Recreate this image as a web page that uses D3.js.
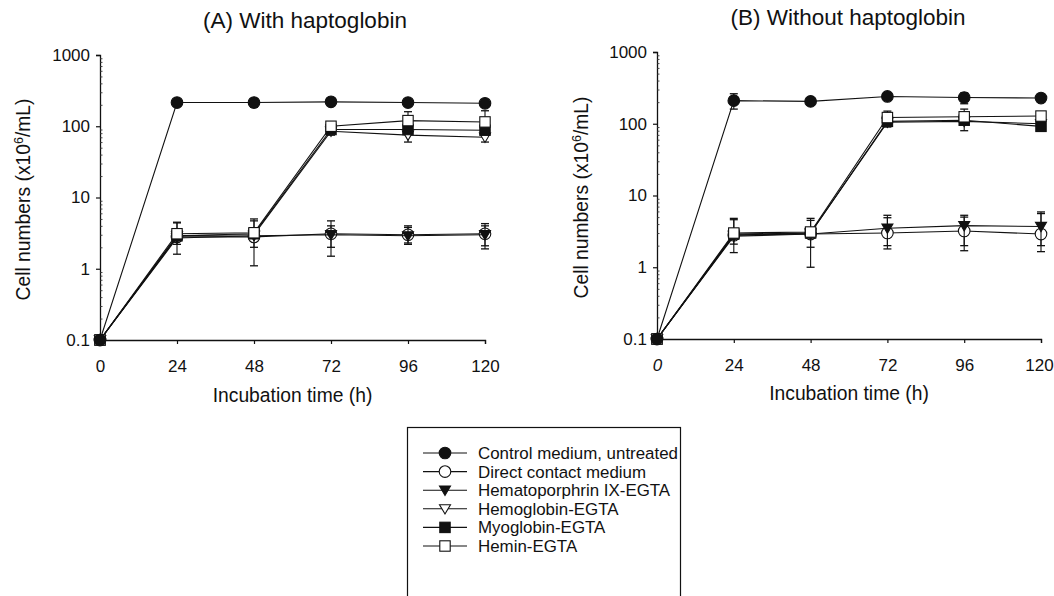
<!DOCTYPE html>
<html>
<head>
<meta charset="utf-8">
<script src="https://cdn.jsdelivr.net/npm/d3@7"></script>
<style>
  html, body { margin: 0; padding: 0; background: #fff; }
  svg { display: block; }
  text { font-family: "Liberation Sans", Arial, Helvetica, sans-serif; fill: #111; }
</style>
</head>
<body>
<svg id="chart" width="1054" height="596"></svg>
<script>
// ---------------- DATA ----------------
const hours = [0, 24, 48, 72, 96, 120];
const xTickLabels = ["0", "24", "48", "72", "96", "120"];
const yTickValues = [0.1, 1, 10, 100, 1000];
const yTickLabels = ["0.1", "1", "10", "100", "1000"];

const seriesNames = [
  "Control medium, untreated",
  "Direct contact medium",
  "Hematoporphrin IX-EGTA",
  "Hemoglobin-EGTA",
  "Myoglobin-EGTA",
  "Hemin-EGTA"
];
const seriesMarkers = ["circleFilled", "circleOpen", "triFilled", "triOpen", "squareFilled", "squareOpen"];

// Panel A: with haptoglobin (cell numbers x10^6/mL)
const A_control    = [0.1, 215, 215, 220, 215, 210];
const A_direct     = [0.1, 2.8, 2.8, 3.1, 3.0, 3.1];
const A_hematopor  = [0.1, 2.7, 2.9, 3.0, 2.9, 3.0];
const A_hemoglobin = [0.1, 2.9, 3.0, 85, 75, 70];
const A_myoglobin  = [0.1, 2.9, 3.1, 90, 90, 88];
const A_hemin      = [0.1, 3.1, 3.2, 100, 120, 115];
// error bars [low, high] per time point (null = none visible)
const A_control_err    = [null, null, [185, 245], null, null, null];
const A_direct_err     = [null, [1.6, 4.5], [1.1, 4.7], [1.5, 4.7], [2.2, 4.0], [1.9, 4.3]];
const A_hematopor_err  = [null, [2.2, 4.4], [2.0, 5.0], [2.0, 4.0], [2.3, 3.8], [2.1, 4.0]];
const A_hemoglobin_err = [null, null, null, [75, 95], [60, 90], [60, 85]];
const A_myoglobin_err  = [null, null, null, null, null, null];
const A_hemin_err      = [null, null, null, [80, 115], [100, 160], [100, 165]];

// Panel B: without haptoglobin
const B_control    = [0.1, 210, 205, 240, 232, 228];
const B_direct     = [0.1, 2.8, 2.9, 3.0, 3.2, 2.9];
const B_hematopor  = [0.1, 2.7, 2.9, 3.5, 3.8, 3.7];
const B_hemoglobin = [0.1, 2.8, 3.0, 105, 108, 100];
const B_myoglobin  = [0.1, 2.9, 3.0, 108, 112, 92];
const B_hemin      = [0.1, 3.0, 3.1, 122, 125, 128];
const B_control_err    = [null, [160, 262], null, null, [190, 270], null];
const B_direct_err     = [null, [1.6, 4.6], [1.0, 4.5], [1.8, 4.9], [1.7, 5.0], [1.65, 5.6]];
const B_hematopor_err  = [null, [2.1, 4.8], [1.9, 4.8], [2.0, 5.3], [2.0, 5.3], [2.0, 5.9]];
const B_hemoglobin_err = [null, null, null, null, [80, 140], null];
const B_myoglobin_err  = [null, null, null, [90, 120], null, null];
const B_hemin_err      = [null, null, null, [100, 150], [100, 160], null];

const panelTitles = ["(A) With haptoglobin", "(B) Without haptoglobin"];
const xAxisTitle = "Incubation time (h)";

// ---------------- DRAW ----------------
const svg = d3.select("#chart");
const FONT = '"Liberation Sans", Arial, sans-serif';

const panels = [
  { title: panelTitles[0], x0: 100, x1: 485, yTop: 55, yBot: 340, titleX: 305,
    series: [A_control, A_direct, A_hematopor, A_hemoglobin, A_myoglobin, A_hemin],
    errs: [A_control_err, A_direct_err, A_hematopor_err, A_hemoglobin_err, A_myoglobin_err, A_hemin_err],
    titleY: 28, ylabX: 30, xlabY: 402, italicZero: false, shiftLast: 0 },
  { title: panelTitles[1], x0: 657, x1: 1041, yTop: 52, yBot: 339, titleX: 848,
    series: [B_control, B_direct, B_hematopor, B_hemoglobin, B_myoglobin, B_hemin],
    errs: [B_control_err, B_direct_err, B_hematopor_err, B_hemoglobin_err, B_myoglobin_err, B_hemin_err],
    titleY: 25, ylabX: 588, xlabY: 400, italicZero: true, shiftLast: -2 }
];

function drawMarker(g, type, cx, cy) {
  const s = 5.2;
  if (type === "circleFilled" || type === "circleOpen") {
    g.append("circle").attr("cx", cx).attr("cy", cy).attr("r", 5.8)
      .attr("fill", type === "circleFilled" ? "#111" : "#fff")
      .attr("stroke", "#111").attr("stroke-width", 1.1);
  } else if (type === "squareFilled" || type === "squareOpen") {
    g.append("rect").attr("x", cx - s).attr("y", cy - s).attr("width", 2 * s).attr("height", 2 * s)
      .attr("fill", type === "squareFilled" ? "#111" : "#fff")
      .attr("stroke", "#111").attr("stroke-width", 1.1);
  } else {
    const h = 5.5;
    g.append("path")
      .attr("d", `M${cx - h},${cy - h * 0.75} L${cx + h},${cy - h * 0.75} L${cx},${cy + h * 0.95} Z`)
      .attr("fill", type === "triFilled" ? "#111" : "#fff")
      .attr("stroke", "#111").attr("stroke-width", 1.1);
  }
}

// draw order: direct, hematoporphrin, hemoglobin, myoglobin, hemin, control
const drawOrder = [1, 2, 3, 4, 5, 0];

panels.forEach(p => {
  const x = d3.scaleLinear().domain([0, 120]).range([p.x0, p.x1]);
  const y = d3.scaleLog().domain([0.1, 1000]).range([p.yBot, p.yTop]);
  const g = svg.append("g");

  // Y axis major
  const yAxis = d3.axisLeft(y).tickValues(yTickValues)
    .tickFormat((d, i) => yTickLabels[i]).tickSize(4).tickPadding(6);
  const ya = g.append("g").attr("transform", `translate(${p.x0},0)`).call(yAxis);
  ya.select(".domain").attr("stroke", "#111").attr("stroke-width", 1.3);
  ya.selectAll(".tick line").attr("stroke", "#111").attr("stroke-width", 1.2);
  ya.selectAll(".tick text").style("font-size", "17px").style("font-family", FONT).attr("fill", "#111");

  // Y minor ticks (inside)
  const minor = [];
  [0.1, 1, 10, 100].forEach(dec => { for (let k = 2; k <= 9; k++) minor.push(dec * k); });
  const ym = g.append("g").attr("transform", `translate(${p.x0},0)`)
    .call(d3.axisLeft(y).tickValues(minor).tickFormat("").tickSize(-2.5));
  ym.select(".domain").remove();
  ym.selectAll(".tick line").attr("stroke", "#333").attr("stroke-width", 0.9);

  // X axis
  const xAxis = d3.axisBottom(x).tickValues(hours)
    .tickFormat((d, i) => xTickLabels[i]).tickSize(4).tickSizeOuter(4).tickPadding(16);
  const xa = g.append("g").attr("transform", `translate(0,${p.yBot})`).call(xAxis);
  xa.select(".domain").attr("stroke", "#111").attr("stroke-width", 1.3);
  xa.selectAll(".tick line").attr("stroke", "#111").attr("stroke-width", 1.2);
  xa.selectAll(".tick text").style("font-size", "17px").style("font-family", FONT).attr("fill", "#111");
  if (p.italicZero) xa.selectAll(".tick text").filter(d => d === 0).style("font-style", "italic");
  if (p.shiftLast) xa.selectAll(".tick text").filter(d => d === 120).attr("dx", p.shiftLast);

  // Titles
  g.append("text").attr("x", p.titleX).attr("y", p.titleY)
    .attr("text-anchor", "middle").style("font-size", "22.5px").text(p.title);
  g.append("text").attr("x", (p.x0 + p.x1) / 2).attr("y", p.xlabY)
    .attr("text-anchor", "middle").style("font-size", "19.3px").text(xAxisTitle);
  const yl = g.append("text")
    .attr("transform", `translate(${p.ylabX},${(p.yTop + p.yBot) / 2 + 2}) rotate(-90)`)
    .attr("text-anchor", "middle").style("font-size", "19.3px");
  yl.append("tspan").text("Cell numbers (x10");
  yl.append("tspan").attr("dy", -7).style("font-size", "12.5px").text("6");
  yl.append("tspan").attr("dy", 7).text("/mL)");

  const line = d3.line().x((d, i) => x(hours[i])).y(d => y(d));

  drawOrder.forEach(si => {
    const vals = p.series[si];
    const errs = p.errs[si];
    const sg = g.append("g");
    sg.append("path").datum(vals).attr("d", line)
      .attr("fill", "none").attr("stroke", "#111").attr("stroke-width", 1.1);
    errs.forEach((e, i) => {
      if (!e) return;
      const cx = x(hours[i]);
      sg.append("line").attr("x1", cx).attr("x2", cx).attr("y1", y(e[0])).attr("y2", y(e[1]))
        .attr("stroke", "#111").attr("stroke-width", 1.1);
      [e[0], e[1]].forEach(v => {
        sg.append("line").attr("x1", cx - 4).attr("x2", cx + 4).attr("y1", y(v)).attr("y2", y(v))
          .attr("stroke", "#111").attr("stroke-width", 1.3);
      });
    });
    vals.forEach((v, i) => drawMarker(sg, seriesMarkers[si], x(hours[i]), y(v)));
  });
});

// ---------------- LEGEND ----------------
const lg = svg.append("g");
lg.append("rect").attr("x", 407.5).attr("y", 427.5).attr("width", 273).attr("height", 180)
  .attr("fill", "#fff").attr("stroke", "#111").attr("stroke-width", 1.2);
const legendY = d3.scalePoint().domain(seriesNames).range([453, 546]);
seriesNames.forEach((name, i) => {
  const cy = legendY(name);
  lg.append("line").attr("x1", 423).attr("x2", 467).attr("y1", cy).attr("y2", cy)
    .attr("stroke", "#111").attr("stroke-width", 1.1);
  drawMarker(lg, seriesMarkers[i], 445, cy);
  lg.append("text").attr("x", 478).attr("y", cy).attr("dy", "0.36em")
    .style("font-size", "16.9px").text(name);
});
</script>
</body>
</html>
